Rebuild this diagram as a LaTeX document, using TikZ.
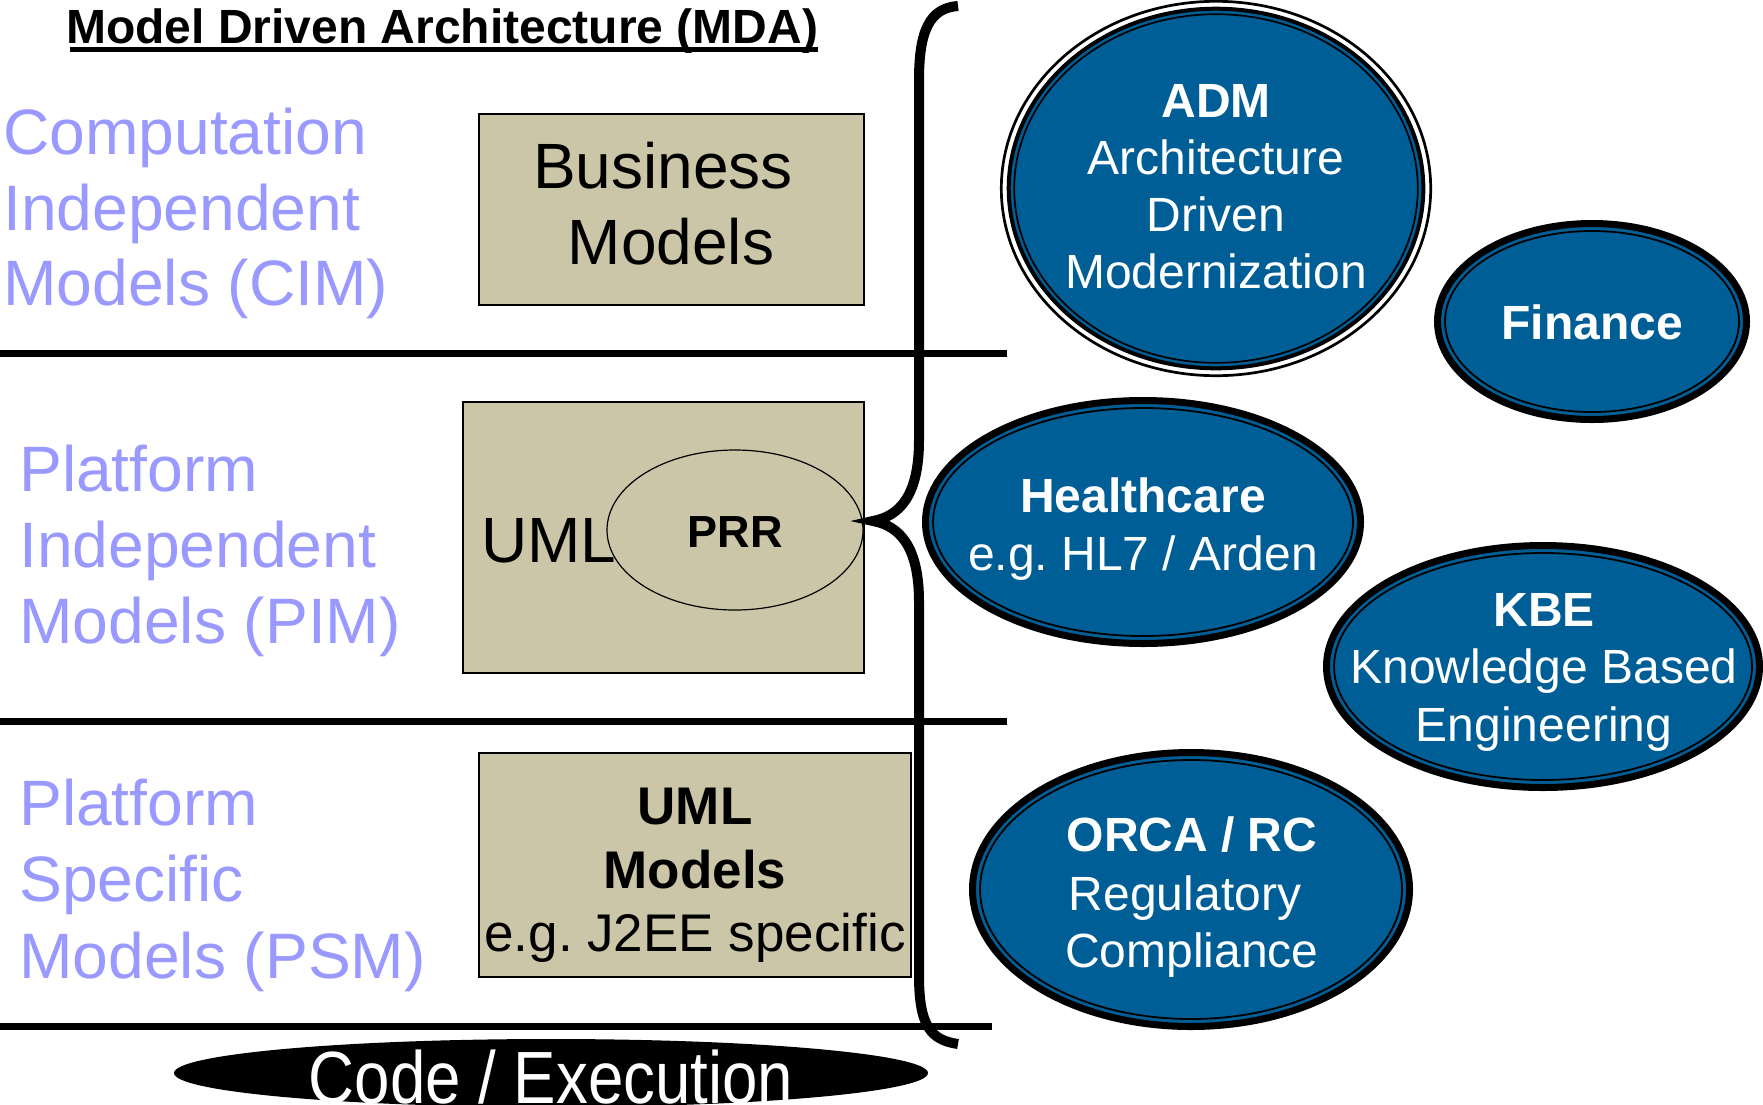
\documentclass[tikz,border=0pt]{standalone}
\usepackage{fontspec}
\setmainfont{Liberation Sans}
\usetikzlibrary{shapes.geometric}
\frenchspacing

\definecolor{mdablue}{RGB}{0,94,150}
\definecolor{lavender}{RGB}{153,153,255}
\definecolor{khaki}{RGB}{203,198,168}
\newcommand\fs[2]{\fontsize{#1}{#2}\selectfont}

\tikzset{
  tier/.style={anchor=base west, inner sep=0pt, text=lavender, font=\fs{64.2}{76}},
  modelbox/.style={draw=black, line width=2pt, fill=khaki, inner sep=0pt},
  boxtext/.style={anchor=base, inner sep=0pt, font=\fs{64}{76}},
  psmtext/.style={anchor=base, inner sep=0pt, font=\fs{53}{64}},
  rule/.style={line width=7pt},
  blob/.style={ellipse, draw=black, line width=7pt, fill=mdablue, inner sep=0pt},
  blobring/.style={ellipse, draw=black, line width=1.8pt, inner sep=0pt},
  blobtext/.style={anchor=base, inner sep=0pt, text=white, font=\fs{48}{57}},
}

% blue ellipse with a thick outline and a thin inner ring
\newcommand\blobnode[5]{%
  \node[blob, minimum width={2*#4}, minimum height={2*#5}] (#1) at (#2,#3) {};
  \node[blobring, minimum width={2*#4-15}, minimum height={2*#5-15}] (#1-ring) at (#1.center) {};
}

\begin{document}
\begin{tikzpicture}[x=1pt,y=-1pt]
\useasboundingbox (0,0) rectangle (1763,1104);
\clip (0,0) rectangle (1763,1104);
\fill[white] (0,0) rectangle (1763,1104);

% title
\node[anchor=base west, inner sep=0pt, font=\fs{48}{58}\bfseries] (title) at (66,43) {Model Driven Architecture (MDA)};
\draw[line width=4.5pt] ([xshift=4pt,yshift=-6.5pt]title.base west) -- ([yshift=-6.5pt]title.base east);

% tier separators
\draw[rule] (0,353) -- (1007,353);
\draw[rule] (0,721) -- (1007,721);
\draw[rule] (0,1026) -- (992,1026);

% tier labels
\node[tier] (cim1) at (3,154) {Computation};
\node[tier] (cim2) at (3,230) {Independent};
\node[tier] (cim3) at (3,305) {Models (CIM)};
\node[tier] (pim1) at (19,491) {Platform};
\node[tier] (pim2) at (19,567) {Independent};
\node[tier] (pim3) at (19,643) {Models (PIM)};
\node[tier] (psm1) at (19,825) {Platform};
\node[tier] (psm2) at (19,901) {Specific};
\node[tier] (psm3) at (19,978) {Models (PSM)};

% model boxes
\node[modelbox, minimum width=385pt, minimum height=191pt] (cimbox) at (671.5,209.5) {};
\node[boxtext] (cimt1) at (663,188) {Business};
\node[boxtext] (cimt2) at (671,264) {Models};

\node[modelbox, minimum width=401pt, minimum height=271pt] (pimbox) at (663.5,537.5) {};
\node[anchor=base west, inner sep=0pt, font=\fs{64}{76}] (uml) at (481,562) {UML};
\node[ellipse, draw=black, line width=1.2pt, fill=khaki, inner sep=0pt,
      minimum width=256pt, minimum height=160pt] (prr) at (735,530) {};
\node[anchor=base, inner sep=0pt, font=\fs{45}{54}\bfseries] (prrt) at (735,547) {PRR};

\node[modelbox, minimum width=432pt, minimum height=224pt] (psmbox) at (695,865) {};
\node[psmtext, font=\fs{53}{64}\bfseries] (psmt1) at (695,824) {UML};
\node[psmtext, font=\fs{53}{64}\bfseries] (psmt2) at (695,888) {Models};
\node[psmtext] (psmt3) at (695,951) {e.g. J2EE specific};

% brace
\draw[line width=10pt]
  (958,6) .. controls (930,8) and (919,30) .. (919,80)
  -- (919,440) .. controls (919,495) and (900,516) .. (873,521)
  .. controls (900,526) and (919,547) .. (919,602)
  -- (919,975) .. controls (919,1025) and (930,1040) .. (958,1044);

% ADM ellipse with its extra outer ring
\node[ellipse, draw=black, line width=2.7pt, fill=white, inner sep=0pt,
      minimum width=429.4pt, minimum height=374.4pt] (adm-out) at (1216,188.5) {};
\node[ellipse, draw=black, line width=4pt, fill=mdablue, inner sep=0pt,
      minimum width=414.6pt, minimum height=359.6pt] (adm) at (adm-out.center) {};
\node[blobring, line width=1.7pt, minimum width=403.6pt, minimum height=348.6pt] (adm-ring) at (adm.center) {};
\node[blobtext, font=\fs{48}{57}\bfseries] (admt1) at (1216,117) {ADM};
\node[blobtext] (admt2) at (1216,174) {Architecture};
\node[blobtext] (admt3) at (1216,231) {Driven};
\node[blobtext] (admt4) at (1216,288) {Modernization};

% application domains
\blobnode{fin}{1592}{321.5}{154.5}{98}
\node[blobtext, font=\fs{48}{57}\bfseries] (fint) at (1592,339) {Finance};

\blobnode{hc}{1143}{522}{217.5}{121.5}
\node[blobtext, font=\fs{48}{57}\bfseries] (hct1) at (1143,512) {Healthcare};
\node[blobtext] (hct2) at (1143,570) {e.g. HL7 / Arden};

\blobnode{kbe}{1543}{666.5}{216.5}{121}
\node[blobtext, font=\fs{48}{57}\bfseries] (kbet1) at (1544,626) {KBE};
\node[blobtext] (kbet2) at (1544,683.5) {Knowledge Based};
\node[blobtext] (kbet3) at (1544,741) {Engineering};

\blobnode{orca}{1191}{889.5}{218.5}{137}
\node[blobtext, font=\fs{48}{57}\bfseries] (orcat1) at (1192,851) {ORCA / RC};
\node[blobtext] (orcat2) at (1185,910) {Regulatory};
\node[blobtext] (orcat3) at (1192,967) {Compliance};

% code / execution
\node[ellipse, fill=black, inner sep=0pt, minimum width=754pt, minimum height=68pt] (code) at (551,1073) {};
\node[anchor=base, inner sep=0pt, text=white, font=\fs{74}{88}] (codet) at (551,1103) {\scalebox{0.86}[1]{Code / Execution}};
\end{tikzpicture}
\end{document}
